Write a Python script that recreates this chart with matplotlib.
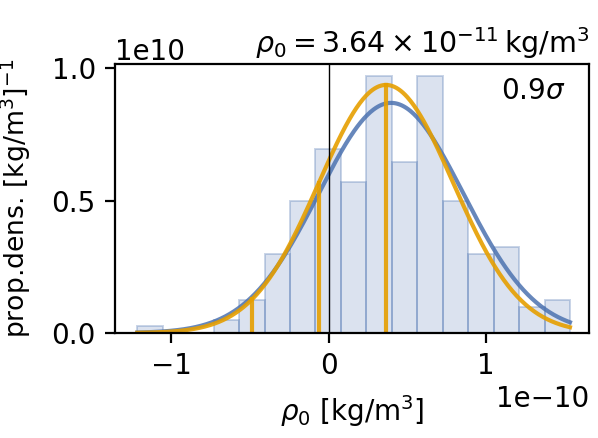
import numpy as np
import matplotlib
matplotlib.use("Agg")
import matplotlib.pyplot as plt

# histogram of rho_0 samples (counts per bin)
hist_lo = -1.215e-10
hist_hi = 1.532e-10
counts = [1, 0, 0, 2, 5, 12, 20, 28, 23, 39, 26, 39, 20, 12, 13, 4, 5]

# gaussian fits
fit_mu, fit_sigma = 3.64e-11, 0.4258e-10      # orange
kde_mu, kde_sigma = 0.396e-10, 0.459e-10      # blue
offset_label = r"$0.9\sigma$"
title_txt = r"$\rho_0 = 3.64 \times 10^{-11}\,\mathrm{kg/m^3}$"

blue = "#4c72b0"
orange = "#e69f00"

plt.rcParams["font.size"] = 20

fig = plt.figure(figsize=(5.98, 4.38), dpi=100)
ax = fig.add_axes([0.1928, 0.2397, 0.7927, 0.6142])

edges = np.linspace(hist_lo, hist_hi, len(counts) + 1)
centers = 0.5 * (edges[:-1] + edges[1:])
ax.hist(centers, bins=edges, weights=counts, density=True,
        facecolor=(0.298, 0.447, 0.690, 0.2), edgecolor=(0.298, 0.447, 0.690, 0.3),
        linewidth=1.4)

def gauss(x, mu, s):
    return np.exp(-0.5 * ((x - mu) / s) ** 2) / (s * np.sqrt(2 * np.pi))

xx = np.linspace(hist_lo, hist_hi, 400)
ax.plot(xx, gauss(xx, kde_mu, kde_sigma), color=blue, lw=3, alpha=0.85)
ax.plot(xx, gauss(xx, fit_mu, fit_sigma), color=orange, lw=3, alpha=0.9)

# mean, 1 sigma, 2 sigma markers
for k in [0, 1, 2]:
    xv = fit_mu - k * fit_sigma
    ax.plot([xv, xv], [0, gauss(xv, fit_mu, fit_sigma)], color=orange, lw=3, alpha=0.9)

ax.axvline(0, color="k", lw=1.0)

ax.set_xlim(-1.355e-10, 1.655e-10)
ax.set_ylim(0, 1.016e10)
ax.set_xticks([-1e-10, 0, 1e-10])
ax.set_yticks([0, 0.5e10, 1e10])
ax.tick_params(length=7, width=1.6, pad=7)
for sp in ax.spines.values():
    sp.set_linewidth(1.6)

ax.text(0.95, 0.95, offset_label, transform=ax.transAxes, ha="right", va="top", fontsize=20)
ax.set_title(title_txt, loc="right", fontsize=20.5, pad=8)
ax.set_xlabel(r"$\rho_0$ [kg/m$^3$]", labelpad=9)
ax.set_ylabel(r"prop.dens. [kg/m$^3$]$^{-1}$", fontsize=19.2, labelpad=13)

fig.savefig("out.png", dpi=100)
